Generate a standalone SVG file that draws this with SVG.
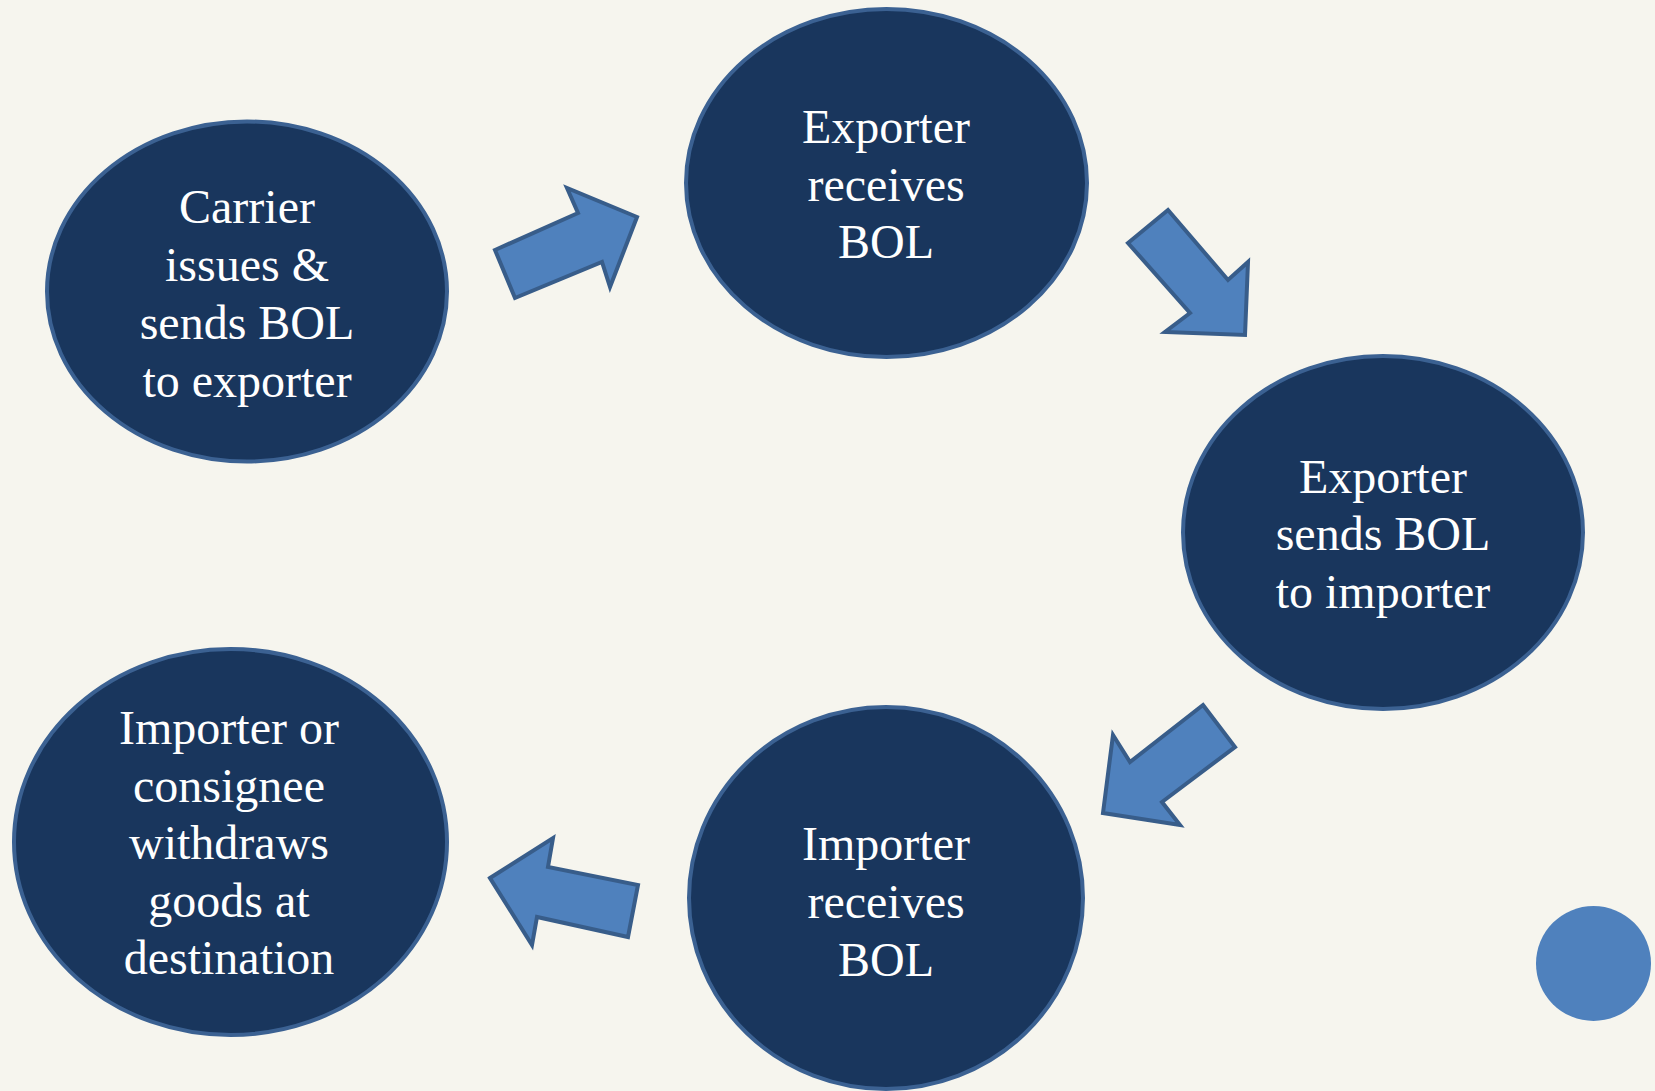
<svg xmlns="http://www.w3.org/2000/svg" width="1655" height="1091" viewBox="0 0 1655 1091">
<style>
.node{fill:#19365D;stroke:#3B6192;stroke-width:4}
.lbl{font-family:"Liberation Serif","Times New Roman",serif;font-size:48px;fill:#FFFFFF;text-anchor:middle}
.arr{fill:#4F81BD;stroke:#385D8A;stroke-width:4;stroke-linejoin:miter}
</style>
<rect width="1655" height="1091" fill="#F6F5EE"/>
<g id="connectors">
<polygon class="arr" points="495,250 578,213 567,188 637,217 610,287 602,262 515,298"/>
<polygon class="arr" points="1128,243 1168,210 1228,280 1248,262 1245,335 1165,332 1190,313"/>
<polygon class="arr" points="1203,705 1235,747 1162,802 1180,825 1103,813 1113,735 1130,762"/>
<polygon class="arr" points="490,878 553,838 548,867 638,885 628,937 537,917 532,945"/>
</g>
<g id="node-carrier">
<ellipse class="node" cx="247" cy="291.5" rx="200" ry="170"/>
<text class="lbl" x="247" y="223">Carrier</text>
<text class="lbl" x="247" y="281">issues &amp;</text>
<text class="lbl" x="247" y="339">sends BOL</text>
<text class="lbl" x="247" y="397">to exporter</text>
</g>
<g id="node-exporter-receives">
<ellipse class="node" cx="886.5" cy="183" rx="200.5" ry="174"/>
<text class="lbl" x="886" y="143">Exporter</text>
<text class="lbl" x="886" y="201">receives</text>
<text class="lbl" x="886" y="258">BOL</text>
</g>
<g id="node-exporter-sends">
<ellipse class="node" cx="1383" cy="532.5" rx="200" ry="176.5"/>
<text class="lbl" x="1383" y="493">Exporter</text>
<text class="lbl" x="1383" y="550">sends BOL</text>
<text class="lbl" x="1383" y="608">to importer</text>
</g>
<g id="node-importer-receives">
<ellipse class="node" cx="886" cy="898" rx="197" ry="191"/>
<text class="lbl" x="886" y="860">Importer</text>
<text class="lbl" x="886" y="918">receives</text>
<text class="lbl" x="886" y="976">BOL</text>
</g>
<g id="node-importer-withdraws">
<ellipse class="node" cx="230.5" cy="842" rx="216.5" ry="193"/>
<text class="lbl" x="229" y="744">Importer or</text>
<text class="lbl" x="229" y="802">consignee</text>
<text class="lbl" x="229" y="859">withdraws</text>
<text class="lbl" x="229" y="917">goods at</text>
<text class="lbl" x="229" y="974">destination</text>
</g>
<g id="dot">
<circle cx="1593.5" cy="963.5" r="57.5" fill="#4F81BD"/>
</g>
</svg>
